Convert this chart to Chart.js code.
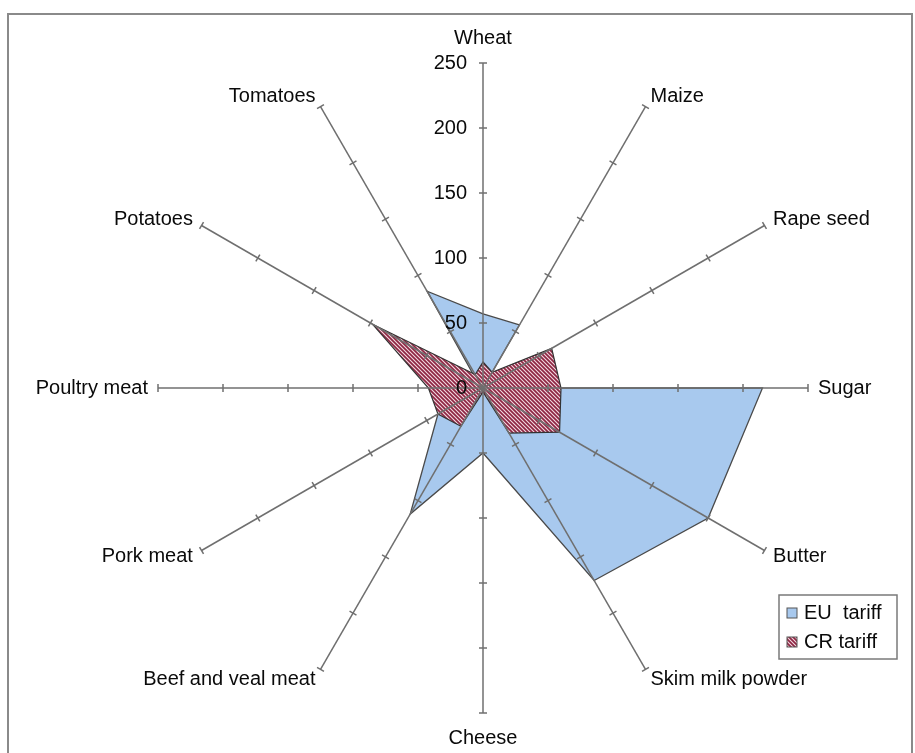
<!DOCTYPE html>
<html lang="en">
<head>
  <meta charset="UTF-8" />
  <title>EU and CR tariffs</title>
  <script src="https://cdn.jsdelivr.net/npm/chart.js"></script>
  <style>
    html, body {
      margin: 0;
      padding: 0;
      background: #ffffff;
    }
    #wrap {
      width: 915px;
      height: 753px;
    }
  </style>
</head>
<body>
  <div id="wrap"><canvas id="tariffChart" width="915" height="753"></canvas></div>

  <script>
    const categories = [
      'Wheat', 'Maize', 'Rape seed', 'Sugar', 'Butter', 'Skim milk powder',
      'Cheese', 'Beef and veal meat', 'Pork meat', 'Poultry meat', 'Potatoes', 'Tomatoes'
    ];
    const euTariff = [57, 56, 0, 215, 200, 171, 50, 112, 40, 0, 3, 86];
    const crTariff = [20, 14, 61, 60, 68, 40, 3, 34, 40, 42, 98, 12];
    const tickValues = [0, 50, 100, 150, 200, 250];

    const FONT = '20px "Liberation Sans", Arial, sans-serif';

    // diagonal hatch used for the CR series
    function makeHatch() {
      const c = document.createElement('canvas');
      c.width = 4;
      c.height = 4;
      const g = c.getContext('2d');
      g.fillStyle = '#f2d8e0';
      g.fillRect(0, 0, 4, 4);
      g.strokeStyle = '#8e2542';
      g.lineWidth = 1.7;
      g.beginPath();
      g.moveTo(-1, -1); g.lineTo(5, 5);
      g.moveTo(-1, 3); g.lineTo(1, 5);
      g.moveTo(3, -1); g.lineTo(5, 1);
      g.stroke();
      return g.createPattern(c, 'repeat');
    }

    // frame, axes with tick marks, value labels and category labels
    const axesPlugin = {
      id: 'axesPlugin',
      beforeDraw(chart) {
        const ctx = chart.ctx;
        ctx.save();
        ctx.strokeStyle = '#8a8a8a';
        ctx.lineWidth = 2;
        ctx.strokeRect(8, 14, 904, 760);
        ctx.restore();
      },
      afterDatasetsDraw(chart) {
        const ctx = chart.ctx;
        const scale = chart.scales.r;
        const max = tickValues[tickValues.length - 1];
        ctx.save();
        ctx.strokeStyle = '#6f6f6f';
        ctx.lineWidth = 1.5;
        categories.forEach((name, i) => {
          const tip = scale.getPointPositionForValue(i, max);
          ctx.beginPath();
          ctx.moveTo(scale.xCenter, scale.yCenter);
          ctx.lineTo(tip.x, tip.y);
          ctx.stroke();
          const a = tip.angle;
          const px = -Math.sin(a), py = Math.cos(a);
          tickValues.slice(1).forEach(v => {
            const p = scale.getPointPositionForValue(i, v);
            ctx.beginPath();
            ctx.moveTo(p.x - px * 4, p.y - py * 4);
            ctx.lineTo(p.x + px * 4, p.y + py * 4);
            ctx.stroke();
          });
        });

        ctx.fillStyle = '#0a0a0a';
        ctx.font = FONT;
        ctx.textAlign = 'right';
        ctx.textBaseline = 'middle';
        tickValues.forEach(v => {
          const p = scale.getPointPositionForValue(0, v);
          ctx.fillText(String(v), p.x - 16, p.y);
        });

        categories.forEach((name, i) => {
          const tip = scale.getPointPositionForValue(i, max);
          const dx = Math.cos(tip.angle), dy = Math.sin(tip.angle);
          let x = tip.x + dx * 10;
          let y = tip.y + dy * 12;
          if (Math.abs(dx) < 0.01) {
            ctx.textAlign = 'center';
            y = tip.y + dy * 25;
          } else {
            ctx.textAlign = dx > 0 ? 'left' : 'right';
          }
          ctx.fillText(name, x, y);
        });
        ctx.restore();
      },
      afterDraw(chart) {
        // legend box
        const ctx = chart.ctx;
        const sets = chart.data.datasets;
        ctx.save();
        ctx.fillStyle = '#ffffff';
        ctx.fillRect(779, 595, 118, 64);
        ctx.strokeStyle = '#7a7a7a';
        ctx.lineWidth = 1.5;
        ctx.strokeRect(779, 595, 118, 64);
        ctx.font = FONT;
        ctx.textAlign = 'left';
        ctx.textBaseline = 'middle';
        sets.forEach((ds, k) => {
          const y = 613 + k * 29;
          ctx.fillStyle = ds.backgroundColor;
          ctx.fillRect(787, y - 5, 10, 10);
          ctx.strokeStyle = '#555';
          ctx.lineWidth = 1;
          ctx.strokeRect(787, y - 5, 10, 10);
          ctx.fillStyle = '#0a0a0a';
          ctx.fillText(ds.label, 804, y);
        });
        ctx.restore();
      }
    };

    const ctx = document.getElementById('tariffChart').getContext('2d');
    const chart = new Chart(ctx, {
      type: 'radar',
      data: {
        labels: categories,
        datasets: [
          {
            label: 'EU  tariff',
            data: euTariff,
            backgroundColor: '#a8c9ee',
            borderColor: '#4a4a4a',
            borderWidth: 1.3,
            pointRadius: 0,
            fill: true,
            order: 1
          },
          {
            label: 'CR tariff',
            data: crTariff,
            backgroundColor: makeHatch(),
            borderColor: '#333333',
            borderWidth: 1.2,
            pointRadius: 0,
            fill: true,
            order: 0
          }
        ]
      },
      options: {
        responsive: false,
        animation: false,
        layout: {
          padding: { left: 158, right: 107, top: 63, bottom: 40 }
        },
        elements: { line: { tension: 0 } },
        scales: {
          r: {
            min: 0,
            max: 250,
            ticks: { display: false, stepSize: 50 },
            grid: { display: false },
            angleLines: { display: false },
            pointLabels: { display: false }
          }
        },
        plugins: {
          legend: { display: false },
          tooltip: { enabled: false }
        }
      },
      plugins: [axesPlugin]
    });
  </script>
</body>
</html>
